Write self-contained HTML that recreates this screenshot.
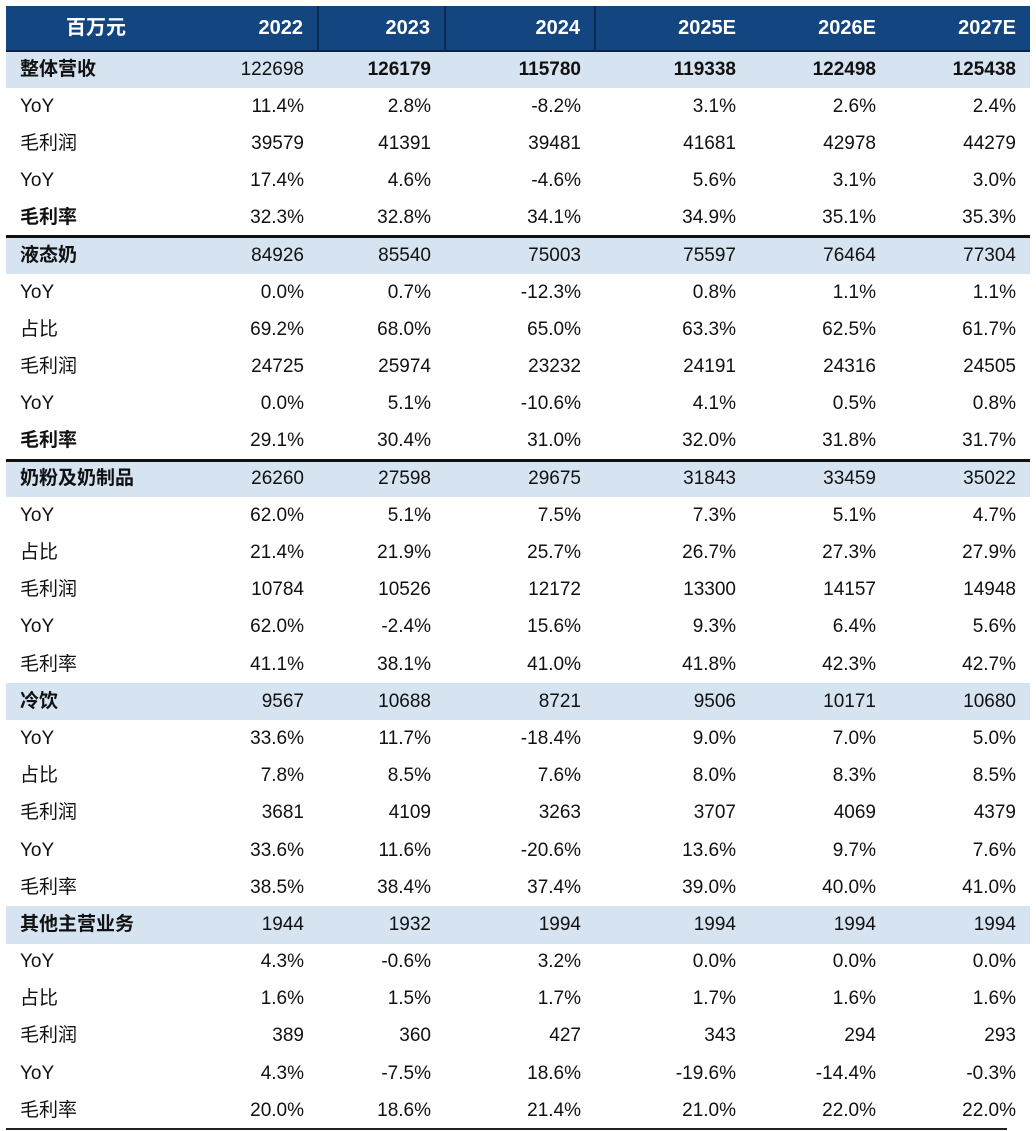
<!DOCTYPE html>
<html><head><meta charset="utf-8"><style>
body{margin:0;background:#fff;width:1036px;height:1131px;overflow:hidden;font-family:"Liberation Sans","Noto Sans CJK SC",sans-serif;}
table{position:absolute;left:6px;top:6px;border-collapse:collapse;table-layout:fixed;width:1024px;}
td,th{height:37.2px;line-height:20px;padding:0 14px 0 0;text-align:right;font-size:19px;color:#111;white-space:nowrap;box-sizing:border-box;vertical-align:middle;}
td:first-child,th:first-child{text-align:left;padding-left:14px;}
thead th{background:#134580;color:#fff;font-weight:bold;font-size:20px;height:45px;border-bottom:2px solid #0c2440;}
thead th.v{border-left:2px solid #0b2a50;}
thead th:first-child{text-align:center;padding-left:0;}
tr.h td{background:#d6e3f1;}
tr.k td{border-top:3px solid #111;}
.b{font-weight:bold;}
#bl{position:absolute;left:6px;top:1128px;width:1001px;height:1.5px;background:#222;}
</style></head><body>
<table>
<colgroup><col style="width:194px"><col style="width:118px"><col style="width:127px"><col style="width:150px"><col style="width:155px"><col style="width:140px"><col style="width:140px"></colgroup>
<thead><tr><th>百万元</th><th>2022</th><th class="v">2023</th><th class="v">2024</th><th class="v">2025E</th><th>2026E</th><th>2027E</th></tr></thead>
<tbody>
<tr class="h"><td class="b">整体营收</td><td>122698</td><td class="b">126179</td><td class="b">115780</td><td class="b">119338</td><td class="b">122498</td><td class="b">125438</td></tr>
<tr><td>YoY</td><td>11.4%</td><td>2.8%</td><td>-8.2%</td><td>3.1%</td><td>2.6%</td><td>2.4%</td></tr>
<tr><td>毛利润</td><td>39579</td><td>41391</td><td>39481</td><td>41681</td><td>42978</td><td>44279</td></tr>
<tr><td>YoY</td><td>17.4%</td><td>4.6%</td><td>-4.6%</td><td>5.6%</td><td>3.1%</td><td>3.0%</td></tr>
<tr><td class="b">毛利率</td><td>32.3%</td><td>32.8%</td><td>34.1%</td><td>34.9%</td><td>35.1%</td><td>35.3%</td></tr>
<tr class="h k"><td class="b">液态奶</td><td>84926</td><td>85540</td><td>75003</td><td>75597</td><td>76464</td><td>77304</td></tr>
<tr><td>YoY</td><td>0.0%</td><td>0.7%</td><td>-12.3%</td><td>0.8%</td><td>1.1%</td><td>1.1%</td></tr>
<tr><td>占比</td><td>69.2%</td><td>68.0%</td><td>65.0%</td><td>63.3%</td><td>62.5%</td><td>61.7%</td></tr>
<tr><td>毛利润</td><td>24725</td><td>25974</td><td>23232</td><td>24191</td><td>24316</td><td>24505</td></tr>
<tr><td>YoY</td><td>0.0%</td><td>5.1%</td><td>-10.6%</td><td>4.1%</td><td>0.5%</td><td>0.8%</td></tr>
<tr><td class="b">毛利率</td><td>29.1%</td><td>30.4%</td><td>31.0%</td><td>32.0%</td><td>31.8%</td><td>31.7%</td></tr>
<tr class="h k"><td class="b">奶粉及奶制品</td><td>26260</td><td>27598</td><td>29675</td><td>31843</td><td>33459</td><td>35022</td></tr>
<tr><td>YoY</td><td>62.0%</td><td>5.1%</td><td>7.5%</td><td>7.3%</td><td>5.1%</td><td>4.7%</td></tr>
<tr><td>占比</td><td>21.4%</td><td>21.9%</td><td>25.7%</td><td>26.7%</td><td>27.3%</td><td>27.9%</td></tr>
<tr><td>毛利润</td><td>10784</td><td>10526</td><td>12172</td><td>13300</td><td>14157</td><td>14948</td></tr>
<tr><td>YoY</td><td>62.0%</td><td>-2.4%</td><td>15.6%</td><td>9.3%</td><td>6.4%</td><td>5.6%</td></tr>
<tr><td>毛利率</td><td>41.1%</td><td>38.1%</td><td>41.0%</td><td>41.8%</td><td>42.3%</td><td>42.7%</td></tr>
<tr class="h"><td class="b">冷饮</td><td>9567</td><td>10688</td><td>8721</td><td>9506</td><td>10171</td><td>10680</td></tr>
<tr><td>YoY</td><td>33.6%</td><td>11.7%</td><td>-18.4%</td><td>9.0%</td><td>7.0%</td><td>5.0%</td></tr>
<tr><td>占比</td><td>7.8%</td><td>8.5%</td><td>7.6%</td><td>8.0%</td><td>8.3%</td><td>8.5%</td></tr>
<tr><td>毛利润</td><td>3681</td><td>4109</td><td>3263</td><td>3707</td><td>4069</td><td>4379</td></tr>
<tr><td>YoY</td><td>33.6%</td><td>11.6%</td><td>-20.6%</td><td>13.6%</td><td>9.7%</td><td>7.6%</td></tr>
<tr><td>毛利率</td><td>38.5%</td><td>38.4%</td><td>37.4%</td><td>39.0%</td><td>40.0%</td><td>41.0%</td></tr>
<tr class="h"><td class="b">其他主营业务</td><td>1944</td><td>1932</td><td>1994</td><td>1994</td><td>1994</td><td>1994</td></tr>
<tr><td>YoY</td><td>4.3%</td><td>-0.6%</td><td>3.2%</td><td>0.0%</td><td>0.0%</td><td>0.0%</td></tr>
<tr><td>占比</td><td>1.6%</td><td>1.5%</td><td>1.7%</td><td>1.7%</td><td>1.6%</td><td>1.6%</td></tr>
<tr><td>毛利润</td><td>389</td><td>360</td><td>427</td><td>343</td><td>294</td><td>293</td></tr>
<tr><td>YoY</td><td>4.3%</td><td>-7.5%</td><td>18.6%</td><td>-19.6%</td><td>-14.4%</td><td>-0.3%</td></tr>
<tr><td>毛利率</td><td>20.0%</td><td>18.6%</td><td>21.4%</td><td>21.0%</td><td>22.0%</td><td>22.0%</td></tr>
</tbody></table>
<div id="bl"></div>
</body></html>
